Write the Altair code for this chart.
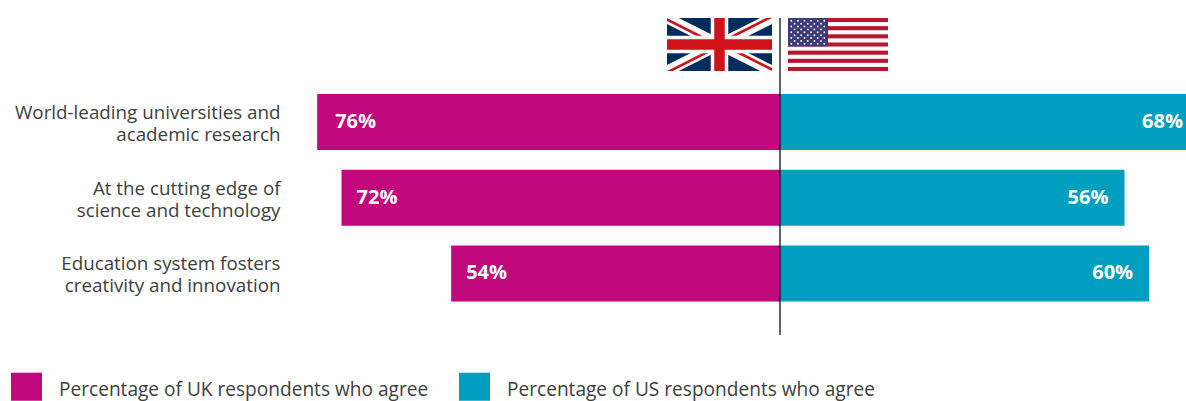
import base64
import altair as alt
import pandas as pd

categories = [
    "World-leading universities and|academic research",
    "At the cutting edge of|science and technology",
    "Education system fosters|creativity and innovation",
]
uk_values = [76, 72, 54]
us_values = [68, 56, 60]
series_names = [
    "Percentage of UK respondents who agree",
    "Percentage of US respondents who agree",
]
series_colors = ["#C1087D", "#009FBF"]
FONT = "Open Sans"
INK = "#404040"


def data_uri(svg):
    return "data:image/svg+xml;base64," + base64.b64encode(svg.encode()).decode()


def union_flag():
    return (
        '<svg xmlns="http://www.w3.org/2000/svg" viewBox="0 0 60 30" width="105" height="53" preserveAspectRatio="none">'
        '<clipPath id="t"><path d="M30,15h30v15zv15h-30zh-30v-15zv-15h30z"/></clipPath>'
        '<rect width="60" height="30" fill="#002D5C"/>'
        '<path d="M0,0L60,30M60,0L0,30" stroke="#fff" stroke-width="6"/>'
        '<path d="M0,0L60,30M60,0L0,30" clip-path="url(#t)" stroke="#D01318" stroke-width="3"/>'
        '<path d="M30,0v30M0,15h60" stroke="#fff" stroke-width="10"/>'
        '<path d="M30,0v30M0,15h60" stroke="#D01318" stroke-width="6"/>'
        "</svg>"
    )


def stars_and_stripes():
    parts = ['<rect width="100" height="53" fill="#fff"/>']
    stripe = 53 / 13
    for i in range(0, 13, 2):
        parts.append(f'<rect y="{i * stripe:.2f}" width="100" height="{stripe:.2f}" fill="#B5172F"/>')
    parts.append('<rect width="40" height="28.5" fill="#3F3A78"/>')
    for row in range(9):
        count = 6 if row % 2 == 0 else 5
        start = 3.3 if row % 2 == 0 else 6.6
        for col in range(count):
            parts.append(f'<circle cx="{start + col * 6.6:.1f}" cy="{2.8 + row * 2.87:.1f}" r="0.95" fill="#fff"/>')
    body = "".join(parts)
    return (
        '<svg xmlns="http://www.w3.org/2000/svg" viewBox="0 0 100 53" width="100" height="53" preserveAspectRatio="none">'
        + body + "</svg>"
    )


rows = []
for cat, uk, us in zip(categories, uk_values, us_values):
    rows.append({"category": cat, "series": series_names[0], "signed": -uk, "label": f"{uk}%", "value": uk})
    rows.append({"category": cat, "series": series_names[1], "signed": us, "label": f"{us}%", "value": us})
df = pd.DataFrame(rows)

# Piecewise scale around the centre line; the longest US bar runs into the right edge.
x_scale = alt.Scale(domain=[-80.46, 0, 66.0], range=[0, 490, 896], clamp=True, nice=False, zero=False)
x_enc = alt.X("signed:Q", scale=x_scale, axis=None)
y_enc = alt.Y(
    "category:N",
    sort=categories,
    title=None,
    scale=alt.Scale(range=[76, 283.5], paddingInner=0.26, paddingOuter=0),
    axis=alt.Axis(
        domain=False,
        ticks=False,
        grid=False,
        labelExpr="split(datum.label, '|')",
        labelFont=FONT,
        labelFontSize=18.8,
        labelColor=INK,
        labelPadding=10,
        labelLimit=300,
        labelLineHeight=22,
        labelOffset=-9,
    ),
)

# Legend swatch: a 31 x 28 box, raised a little against its label.
SWATCH = "M-1,-1.1H1V0.71H-1Z"

bars = alt.Chart(df).mark_bar().encode(
    x=x_enc,
    y=y_enc,
    color=alt.Color(
        "series:N",
        scale=alt.Scale(domain=series_names, range=series_colors),
        legend=alt.Legend(
            title=None,
            orient="none",
            legendX=-279,
            legendY=356,
            direction="horizontal",
            symbolType=SWATCH,
            symbolSize=961,
            symbolStrokeWidth=0,
            symbolOpacity=1,
            labelFont=FONT,
            labelFontSize=19.1,
            labelColor=INK,
            labelOffset=17,
            labelLimit=420,
            columnPadding=30,
            padding=0,
        ),
    ),
)


def value_labels(selection, align, dx):
    return (
        alt.Chart(df)
        .transform_filter(selection)
        .mark_text(align=align, dx=dx, font=FONT, fontSize=20, fontWeight="bold", color="#FFFFFF")
        .encode(x=x_enc, y=y_enc, text="label:N")
    )


zero_line = alt.Chart(pd.DataFrame({"zero": [0]})).mark_rule(color="#111111", strokeWidth=1.3).encode(
    x=alt.X("zero:Q", scale=x_scale, axis=None)
)

flags = pd.DataFrame({"url": [data_uri(union_flag()), data_uri(stars_and_stripes())], "flag": ["UK", "US"]})
uk_flag = alt.Chart(flags).transform_filter("datum.flag == 'UK'").mark_image(
    width=105, height=53, align="left", baseline="top", aspect=False
).encode(x=alt.value(377), y=alt.value(0), url="url:N")
us_flag = alt.Chart(flags).transform_filter("datum.flag == 'US'").mark_image(
    width=100, height=53, align="left", baseline="top", aspect=False
).encode(x=alt.value(498), y=alt.value(0), url="url:N")

chart = (
    alt.layer(
        bars,
        zero_line,
        value_labels("datum.signed < 0 && datum.value == 76", "left", 18),
        value_labels("datum.signed < 0 && datum.value != 76", "left", 15),
        value_labels("datum.signed > 0 && datum.value == 68", "right", -3),
        value_labels("datum.signed > 0 && datum.value != 68", "right", -16),
        uk_flag,
        us_flag,
    )
    .properties(
        width=896,
        height=317,
        padding={"left": 290, "top": 18, "right": 0, "bottom": 66},
        autosize=alt.AutoSizeParams(type="none"),
        background="#FFFFFF",
    )
    .configure_view(stroke=None)
)

chart.save("out.html", embed_options={"renderer": "svg", "actions": False})
